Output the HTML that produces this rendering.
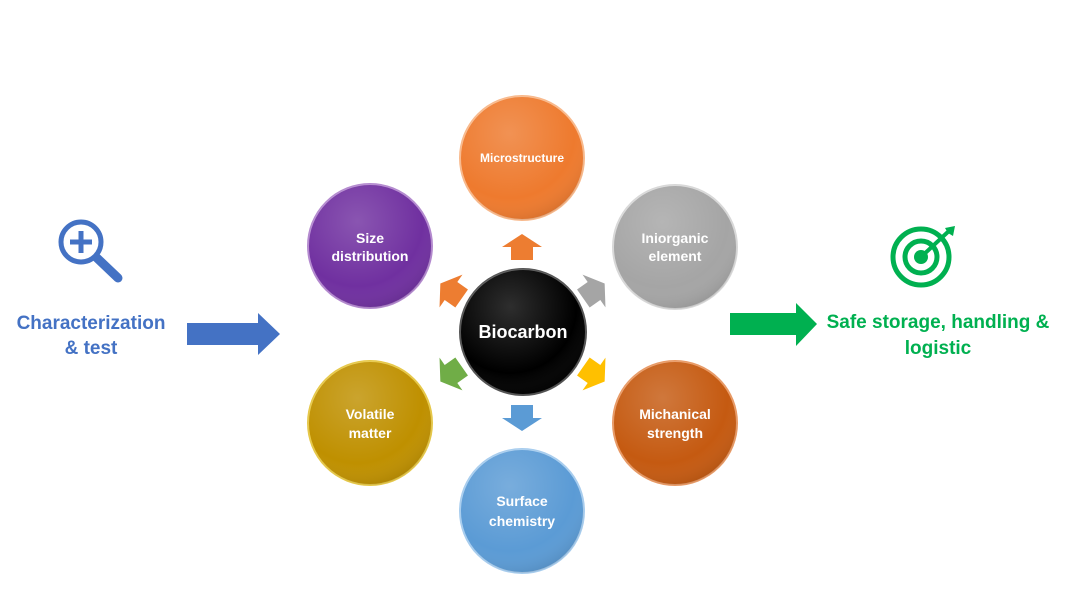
<!DOCTYPE html>
<html><head><meta charset="utf-8"><style>
body{margin:0;background:#fff;}
svg{display:block;}
text{font-family:"Liberation Sans",sans-serif;font-weight:bold;}
</style></head><body>
<svg width="1080" height="607" viewBox="0 0 1080 607" xmlns="http://www.w3.org/2000/svg">
<defs>
<radialGradient id="sh" cx="40%" cy="30%" r="75%">
<stop offset="0" stop-color="#fff" stop-opacity="0.18"/>
<stop offset="0.7" stop-color="#fff" stop-opacity="0"/>
<stop offset="1" stop-color="#000" stop-opacity="0.12"/>
</radialGradient>
<path id="ar" d="M0,-13 L20,0 L11,0 L11,13 L-11,13 L-11,0 L-20,0 Z"/>
</defs>
<!-- circles -->
<g stroke-width="2">
<circle cx="522" cy="158" r="62" fill="#EE7A2E" stroke="#F8B98C"/>
<circle cx="370" cy="246" r="62" fill="#7030A0" stroke="#B48ACF"/>
<circle cx="675" cy="247" r="62" fill="#A5A5A5" stroke="#D8D8D8"/>
<circle cx="523" cy="332" r="63" fill="#000" stroke="#555"/>
<circle cx="370" cy="423" r="62" fill="#BF9000" stroke="#E6C84A"/>
<circle cx="675" cy="423" r="62" fill="#C55A11" stroke="#E89A66"/>
<circle cx="522" cy="511" r="62" fill="#5B9BD5" stroke="#A8CDEE"/>
</g>
<g fill="url(#sh)">
<circle cx="522" cy="158" r="62"/><circle cx="370" cy="246" r="62"/><circle cx="675" cy="247" r="62"/>
<circle cx="523" cy="332" r="63"/><circle cx="370" cy="423" r="62"/><circle cx="675" cy="423" r="62"/><circle cx="522" cy="511" r="62"/>
</g>
<!-- small arrows -->
<use href="#ar" fill="#ED7D31" transform="translate(522,247)"/>
<use href="#ar" fill="#ED7D31" transform="translate(451,291) rotate(-55)"/>
<use href="#ar" fill="#A5A5A5" transform="translate(594,291) rotate(55)"/>
<use href="#ar" fill="#FFC000" transform="translate(594,374) rotate(125)"/>
<use href="#ar" fill="#70AD47" transform="translate(451,374) rotate(-125)"/>
<use href="#ar" fill="#5B9BD5" transform="translate(522,418) rotate(180)"/>
<!-- circle labels -->
<g fill="#fff" text-anchor="middle">
<text x="522" y="162" font-size="12">Microstructure</text>
<text x="370" y="243" font-size="14">Size</text>
<text x="370" y="261" font-size="14">distribution</text>
<text x="675" y="243" font-size="14">Iniorganic</text>
<text x="675" y="261" font-size="14">element</text>
<text x="523" y="338" font-size="18">Biocarbon</text>
<text x="370" y="419" font-size="14">Volatile</text>
<text x="370" y="438" font-size="14">matter</text>
<text x="675" y="419" font-size="14">Michanical</text>
<text x="675" y="438" font-size="14">strength</text>
<text x="522" y="506" font-size="14">Surface</text>
<text x="522" y="526" font-size="14">chemistry</text>
</g>
<!-- left -->
<g stroke="#4472C4" stroke-width="5" fill="none">
<circle cx="81" cy="242" r="20"/>
<line x1="81" y1="231" x2="81" y2="253"/><line x1="70" y1="242" x2="92" y2="242"/>
</g>
<line x1="97" y1="258" x2="118" y2="278" stroke="#4472C4" stroke-width="9" stroke-linecap="round"/>
<g fill="#4472C4" text-anchor="middle" font-size="19">
<text x="91" y="329">Characterization</text>
<text x="91" y="354">&amp; test</text>
</g>
<path d="M187,323 L258,323 L258,313 L280,334 L258,355 L258,345 L187,345 Z" fill="#4472C4"/>
<!-- right -->
<g stroke="#00B050" fill="none">
<circle cx="921" cy="257" r="28" stroke-width="5"/>
<circle cx="921" cy="257" r="16" stroke-width="5"/>
</g>
<circle cx="921" cy="257" r="7" fill="#00B050"/>
<line x1="921" y1="257" x2="950" y2="230" stroke="#00B050" stroke-width="4"/>
<path d="M945,228 L955,226 L953,236 L948,233 Z" fill="#00B050"/>
<path d="M730,313 L796,313 L796,303 L817,324 L796,346 L796,335 L730,335 Z" fill="#00B050"/>
<g fill="#00B050" text-anchor="middle" font-size="19">
<text x="938" y="328">Safe storage, handling &amp;</text>
<text x="938" y="354">logistic</text>
</g>
</svg>
</body></html>
